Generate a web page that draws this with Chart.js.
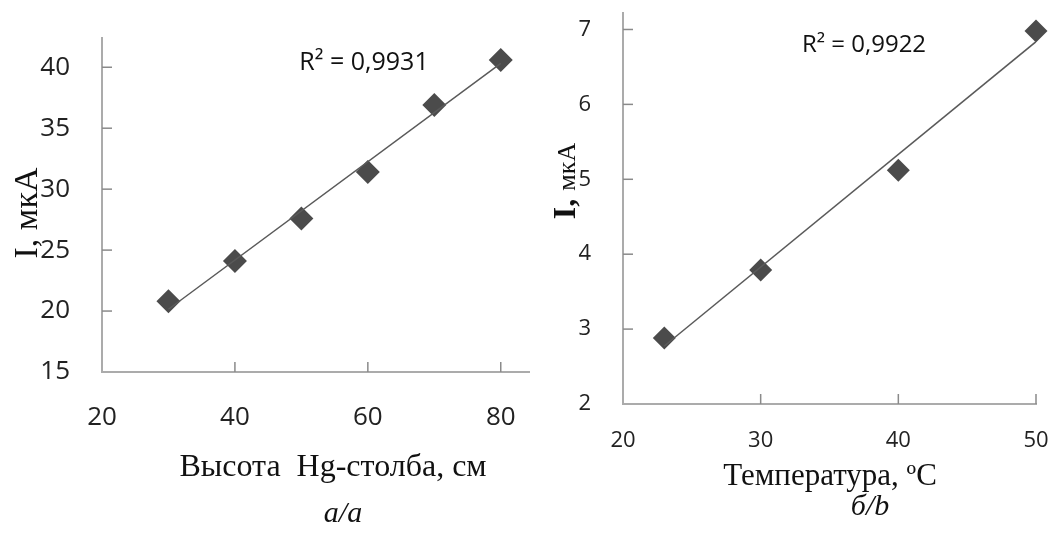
<!DOCTYPE html>
<html>
<head>
<meta charset="utf-8">
<script src="https://cdn.jsdelivr.net/npm/chart.js@4.4.1/dist/chart.umd.min.js"></script>
<style>
  body { margin: 0; background: #fff; width: 1056px; height: 536px; overflow: hidden; position: relative; }
  .box { position: absolute; top: 0; height: 536px; }
</style>
</head>
<body>
<div class="box" style="left:0;width:530px"><canvas id="chartA"></canvas></div>
<div class="box" style="left:530px;width:526px"><canvas id="chartB"></canvas></div>
<script>
// a) current vs Hg column height
const heightX = [30, 40, 50, 60, 70, 80];
const heightI = [20.8, 24.1, 27.6, 31.4, 36.9, 40.6];
const heightTicksX = [20, 40, 60, 80];
const heightTicksY = [15, 20, 25, 30, 35, 40];
const heightR2 = 'R² = 0,9931';

// b) current vs temperature
const tempX = [23, 30, 40, 50];
const tempI = [2.88, 3.79, 5.12, 6.98];
const tempTicksX = [20, 30, 40, 50];
const tempTicksY = [2, 3, 4, 5, 6, 7];
const tempR2 = 'R² = 0,9922';

Chart.defaults.font.family = "'Open Sans', sans-serif";
Chart.defaults.color = '#222';

// least squares line between first and last x
function trendOf(xs, ys) {
  const n = xs.length;
  const mx = xs.reduce((a, b) => a + b) / n;
  const my = ys.reduce((a, b) => a + b) / n;
  let sxy = 0, sxx = 0;
  xs.forEach((x, i) => { sxy += (x - mx) * (ys[i] - my); sxx += (x - mx) * (x - mx); });
  const k = sxy / sxx;
  return [xs[0], xs[n - 1]].map(x => ({ x: x, y: my + k * (x - mx) }));
}

// small inward tick marks, like the Excel original
const innerTicks = {
  id: 'innerTicks',
  afterDraw(chart) {
    const { ctx, chartArea, scales } = chart;
    ctx.save();
    ctx.strokeStyle = '#8a8a8a';
    ctx.lineWidth = 1.5;
    scales.x.ticks.forEach(t => {
      if (t.value === scales.x.min) return;
      const px = scales.x.getPixelForValue(t.value);
      ctx.beginPath(); ctx.moveTo(px, chartArea.bottom); ctx.lineTo(px, chartArea.bottom - 10); ctx.stroke();
    });
    scales.y.ticks.forEach(t => {
      if (t.value === scales.y.min) return;
      const py = scales.y.getPixelForValue(t.value);
      ctx.beginPath(); ctx.moveTo(chartArea.left, py); ctx.lineTo(chartArea.left + 10, py); ctx.stroke();
    });
    ctx.restore();
  }
};

// free text (axis titles, captions, R² labels)
function textPlugin(items) {
  return {
    id: 'texts',
    afterDraw(chart) {
      const ctx = chart.ctx;
      items.forEach(it => {
        ctx.save();
        ctx.translate(it.x, it.y);
        if (it.rotate) ctx.rotate(it.rotate * Math.PI / 180);
        ctx.fillStyle = '#111';
        ctx.textBaseline = 'alphabetic';
        ctx.textAlign = 'left';
        let w = 0;
        it.parts.forEach(p => { ctx.font = p.font; w += ctx.measureText(p.text).width; });
        let cx = -w / 2;
        it.parts.forEach(p => { ctx.font = p.font; ctx.fillText(p.text, cx, 0); cx += ctx.measureText(p.text).width; });
        ctx.restore();
      });
    }
  };
}

function makeChart(id, opt) {
  return new Chart(document.getElementById(id), {
    type: 'scatter',
    data: {
      datasets: [{
        type: 'line',
        data: trendOf(opt.xs, opt.ys),
        borderColor: '#5a5a5a',
        borderWidth: 1.5,
        pointRadius: 0,
        fill: false
      }, {
        data: opt.xs.map((x, i) => ({ x: x, y: opt.ys[i] })),
        pointStyle: 'rectRot',
        pointRadius: opt.radius,
        backgroundColor: '#4b4b4b',
        borderColor: '#4b4b4b',
        borderWidth: 0,
        clip: false
      }]
    },
    options: {
      responsive: true,
      maintainAspectRatio: false,
      animation: false,
      layout: { padding: opt.padding, autoPadding: false },
      plugins: { legend: { display: false }, tooltip: { enabled: false } },
      scales: {
        x: {
          type: 'linear',
          min: opt.xMin, max: opt.xMax,
          afterBuildTicks: s => { s.ticks = opt.ticksX.map(v => ({ value: v })); },
          afterFit: s => { s.height = opt.xHeight; s.paddingLeft = 0; s.paddingRight = 0; },
          grid: { display: false },
          border: { color: '#ababab', width: 2 },
          ticks: { font: { size: opt.tickSize }, padding: opt.xPad, color: '#222', maxRotation: 0 }
        },
        y: {
          type: 'linear',
          min: opt.yMin, max: opt.yMax,
          afterBuildTicks: s => { s.ticks = opt.ticksY.map(v => ({ value: v })); },
          afterFit: s => { s.width = opt.yWidth; s.paddingTop = 0; s.paddingBottom = 0; },
          grid: { display: false },
          border: { color: '#ababab', width: 2 },
          ticks: { font: { size: opt.tickSize }, padding: 24, color: '#222' }
        }
      }
    },
    plugins: [innerTicks, textPlugin(opt.texts)]
  });
}

const serif = "'Liberation Serif', 'Times New Roman', serif";

makeChart('chartA', {
  xs: heightX, ys: heightI, ticksX: heightTicksX, ticksY: heightTicksY,
  xMin: 20, xMax: 84.4, yMin: 15, yMax: 42.4,
  padding: { top: 38, right: 0, left: 0, bottom: 0 },
  yWidth: 102, xHeight: 164, xPad: 22, tickSize: 26, radius: 12,
  texts: [
    { x: 364, y: 70, parts: [{ text: heightR2, font: "25px 'Open Sans'" }] },
    { x: 37, y: 213, rotate: -90, parts: [{ text: 'I, мкА', font: '34px ' + serif }] },
    { x: 333, y: 476, parts: [{ text: 'Высота  Hg-столба, см', font: '32px ' + serif }] },
    { x: 343, y: 522, parts: [{ text: 'а/а', font: 'italic 30px ' + serif }] }
  ]
});

makeChart('chartB', {
  xs: tempX, ys: tempI, ticksX: tempTicksX, ticksY: tempTicksY,
  xMin: 20, xMax: 50, yMin: 2, yMax: 7.22,
  padding: { top: 13, right: 20, left: 0, bottom: 0 },
  yWidth: 93, xHeight: 132, xPad: 16, tickSize: 22, radius: 11.5,
  texts: [
    { x: 334, y: 52, parts: [{ text: tempR2, font: "24px 'Open Sans'" }] },
    { x: 45, y: 181, rotate: -90, parts: [{ text: 'I, ', font: 'bold 32px ' + serif }, { text: 'мкА', font: '26px ' + serif }] },
    { x: 300, y: 485, parts: [{ text: 'Температура, ºС', font: '31px ' + serif }] },
    { x: 340, y: 515, parts: [{ text: 'б/b', font: 'italic 30px ' + serif }] }
  ]
});
</script>
</body>
</html>
